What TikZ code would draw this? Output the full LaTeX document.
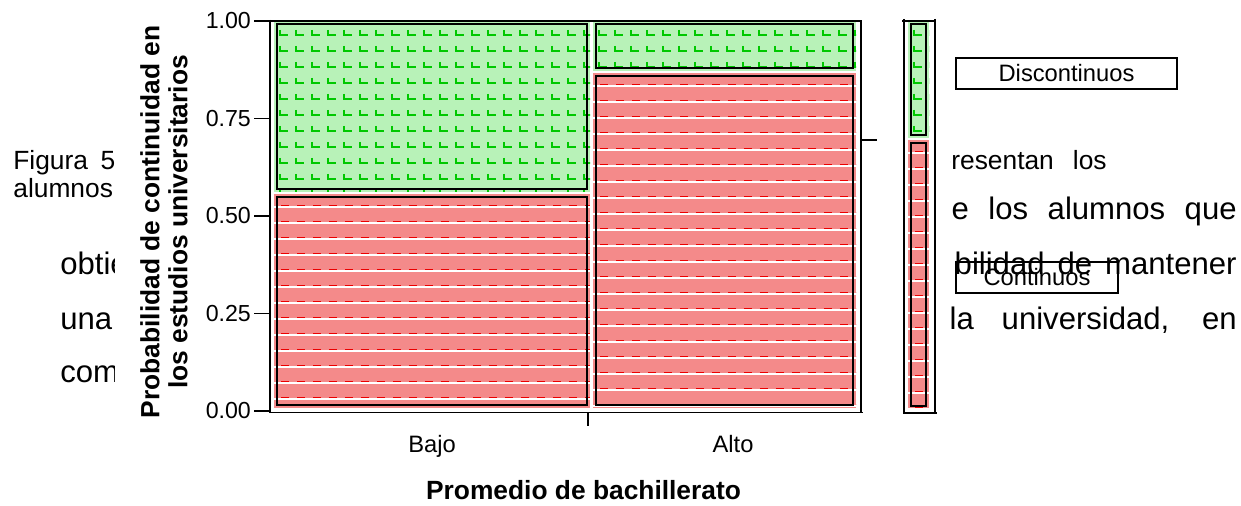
\documentclass[tikz,border=0pt]{standalone}
\usepackage{fontspec}
\setmainfont{Liberation Sans}
\definecolor{greenfill}{RGB}{184,242,184}
\definecolor{greenmark}{RGB}{0,200,0}
\definecolor{redfill}{RGB}{244,138,138}
\definecolor{redmark}{RGB}{235,0,0}
\tikzset{
    axisline/.style={line width=1.1pt},
    cellbox/.style={draw=black,line width=1.1pt},
    ticklabel/.style={font=\fontsize{13.2}{15}\selectfont,inner sep=1pt},
    catlabel/.style={font=\fontsize{13.5}{16}\selectfont,inner sep=0pt},
    titletext/.style={font=\fontsize{15}{16}\selectfont\bfseries,inner sep=0pt},
    smalltext/.style={font=\fontsize{15}{17}\selectfont,inner sep=0pt},
    largetext/.style={font=\fontsize{17.7}{20}\selectfont,inner sep=0pt},
    keybox/.style={draw,line width=1.1pt,inner sep=0pt,font=\fontsize{13.5}{16}\selectfont}
}
\begin{document}
\begin{tikzpicture}[x=0.02cm,y=-0.02cm]
    \useasboundingbox (0,0) rectangle (1241,506);
    % page text behind the chart
    \node (fig) [smalltext,anchor=base west] at (13,170) {\makebox[2.04cm][s]{Figura 5}};
    \node (alum) [smalltext,anchor=base west] at (13,198) {alumnos};
    \node (obt) [largetext,anchor=base west] at (60,275) {obtie};
    \node (una) [largetext,anchor=base west] at (60,330) {una};
    \node (com) [largetext,anchor=base west] at (60,383) {comp};
    \node (pres) [smalltext,anchor=base east] at (1107,170) {\makebox[3.4cm][s]{presentan los}};
    \node (que) [largetext,anchor=base east] at (1237,220) {\makebox[5.7cm][s]{e los alumnos que}};
    \node (mant) [largetext,anchor=base east] at (1237,275) {\makebox[5.64cm][s]{bilidad de mantener}};
    \node (univ) [largetext,anchor=base east] at (1237,330) {\makebox[5.74cm][s]{la universidad, en}};
    \fill[white] (115,0) rectangle (950,506);
    % green cells
    \foreach \xa/\ya/\xb/\yb in {277/24/587/189,596/24/853/68,911/24/926/135} {
        \begin{scope}
            \clip (\xa-3,\ya-3) rectangle (\xb+3,\yb+3);
            \fill[greenfill] (\xa-3,\ya-3) rectangle (\xb+3,\yb+3);
            \pgfmathtruncatemacro\xs{\xa+16}
            \pgfmathtruncatemacro\ys{\ya+16}
            \foreach \gx in {\xa,\xs,...,\xb}
                \foreach \gy in {\ya,\ys,...,\yb}
                    \draw[greenmark,line width=0.9pt] (\gx+3,\gy+6) |- ++(8,5);
        \end{scope}
        \draw[cellbox] (\xa,\ya) rectangle (\xb,\yb);
    }
    % red cells
    \foreach \xa/\ya/\xb/\yb in {277/197/587/405,596/76/853/405,911/143/926/406} {
        \begin{scope}
            \clip (\xa-3,\ya-3) rectangle (\xb+3,\yb+3);
            \fill[redfill] (\xa-3,\ya-3) rectangle (\xb+3,\yb+3);
            \pgfmathtruncatemacro\ys{\ya+16}
            \foreach \gy in {\ya,\ys,...,\yb} {
                \draw[white,line width=0.9pt] (\xa-3,\gy+10) -- (\xb+3,\gy+10);
                \draw[redmark,line width=1.1pt,dash pattern=on 0.16cm off 0.16cm] (\xa+4,\gy+8.5) -- (\xb+3,\gy+8.5);
            }
        \end{scope}
        \draw[cellbox] (\xa,\ya) rectangle (\xb,\yb);
    }
    % axes and frame
    \draw[axisline] (270,20) -- (270,412.5) -- (863,412.5);
    \draw[axisline] (270,21) -- (861,21) -- (861,412.5);
    \draw[axisline] (861,140) -- (877,140);
    \draw[axisline] (588,412.5) -- (588,426);
    \draw[axisline] (904,19) -- (904,413);
    \draw[axisline] (935,19) -- (935,413);
    \draw[axisline] (902,21) -- (936,21);
    \draw[axisline] (903,413) -- (937,413);
    \foreach \v/\y [count=\i] in {1.00/21,0.75/118.5,0.50/216,0.25/313.5,0.00/411} {
        \draw[axisline] (254,\y) -- (270,\y);
        \node (tick\i) [ticklabel,anchor=east] at (253,\y) {\v};
    }
    \node (bajo) [catlabel,anchor=base] at (432,453) {Bajo};
    \node (alto) [catlabel,anchor=base] at (733,453) {Alto};
    \node (xtitle) [titletext,anchor=base] at (583.5,500) {Promedio de bachillerato};
    \node (ytitle) [titletext,rotate=90,align=center] at (164,222) {Probabilidad de continuidad en\\los estudios universitarios};
    % key
    \node (disc) [keybox,minimum width=4.42cm,minimum height=0.62cm] at (1066.5,73.5) {Discontinuos};
    \node (cont) [keybox,minimum width=3.24cm,minimum height=0.62cm] at (1037,277.5) {Continuos};
\end{tikzpicture}
\end{document}
